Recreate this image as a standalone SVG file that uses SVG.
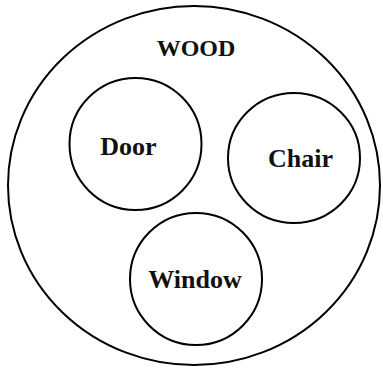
<svg xmlns="http://www.w3.org/2000/svg" width="383" height="372" viewBox="0 0 383 372">
<style>
.c{fill:none;stroke:#000;stroke-width:2}
.t{font-family:"Liberation Serif","Times New Roman",serif;font-weight:bold;fill:#111;text-anchor:middle}
</style>
<rect width="383" height="372" fill="#fff"/>
<g id="wood">
<ellipse class="c" cx="194" cy="185.5" rx="186" ry="179.5"/>
<text class="t" x="196" y="56" font-size="24">WOOD</text>
</g>
<g id="door">
<circle class="c" cx="135.5" cy="144" r="66"/>
<text class="t" x="128.5" y="155" font-size="26">Door</text>
</g>
<g id="chair">
<ellipse class="c" cx="294" cy="158" rx="66" ry="65"/>
<text class="t" x="300.5" y="167" font-size="26">Chair</text>
</g>
<g id="window">
<circle class="c" cx="196" cy="279" r="66"/>
<text class="t" x="195" y="288" font-size="26">Window</text>
</g>
<g id="connectors"/>
</svg>
